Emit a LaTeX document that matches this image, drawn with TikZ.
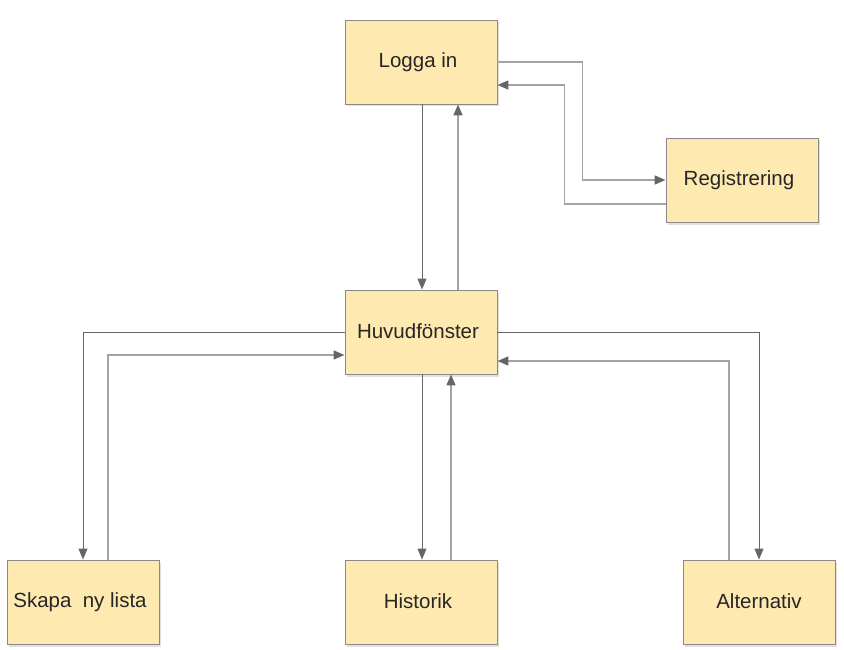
\documentclass[tikz,border=0pt]{standalone}
\usepackage{fontspec}
\setmainfont{Liberation Sans}
\usetikzlibrary{arrows.meta,shadows}
\definecolor{boxfill}{HTML}{FEEAB0}
\definecolor{boxline}{HTML}{8A8A8A}
\definecolor{darkline}{HTML}{666666}
\definecolor{lightline}{HTML}{A3A3A3}
\newcommand{\lbltx}[1]{\raisebox{2pt}{#1}\hspace*{6pt}}
\begin{document}
\begin{tikzpicture}[x=1pt,y=-1pt,
  box/.style={draw=boxline,line width=0.9pt,fill=boxfill,minimum width=152pt,minimum height=84pt,
    inner sep=0pt,font=\fontsize{20.5}{24}\selectfont,text=black!85,
    drop shadow={shadow xshift=1.5pt,shadow yshift=-2.5pt,fill=black,opacity=0.12}},
  tip/.style={-{Triangle[length=11pt,width=9pt,color=darkline,fill=darkline]}},
  dk/.style={draw=darkline,line width=1pt,tip},
  lt/.style={draw=lightline,line width=1.6pt,tip}]
\useasboundingbox (0,0) rectangle (844,650);
\node[box] (login) at (421,62) {\lbltx{Logga in}};
\node[box] (reg) at (742,180) {\lbltx{Registrering}};
\node[box] (main) at (421,332) {\lbltx{Huvudfönster}};
\node[box] (skapa) at (83,602) {\lbltx{Skapa\ \ ny lista}};
\node[box] (hist) at (421,602) {\lbltx{Historik}};
\node[box] (alt) at (759,602) {\raisebox{2pt}{Alternativ}};
% login <-> main
\draw[dk] ([xshift=1pt]login.south) -- ([xshift=1pt]main.north);
\draw[lt] ([xshift=37pt]main.north) -- ([xshift=37pt]login.south);
% login <-> reg
\draw[lt] (login.east) -- ++(85,0) |- (reg.west);
\draw[lt] ([yshift=-24pt]reg.west) -- ++(-101,0) |- ([yshift=-23pt]login.east);
% main <-> skapa
\draw[dk] (main.west) -| (skapa.north);
\draw[lt] ([xshift=25pt]skapa.north) |- ([yshift=-23pt]main.west);
% main <-> hist
\draw[dk] ([xshift=1pt]main.south) -- ([xshift=1pt]hist.north);
\draw[lt] ([xshift=30pt]hist.north) -- ([xshift=30pt]main.south);
% main <-> alt
\draw[dk] (main.east) -| (alt.north);
\draw[lt] ([xshift=-30pt]alt.north) |- ([yshift=-29pt]main.east);
\end{tikzpicture}
\end{document}
